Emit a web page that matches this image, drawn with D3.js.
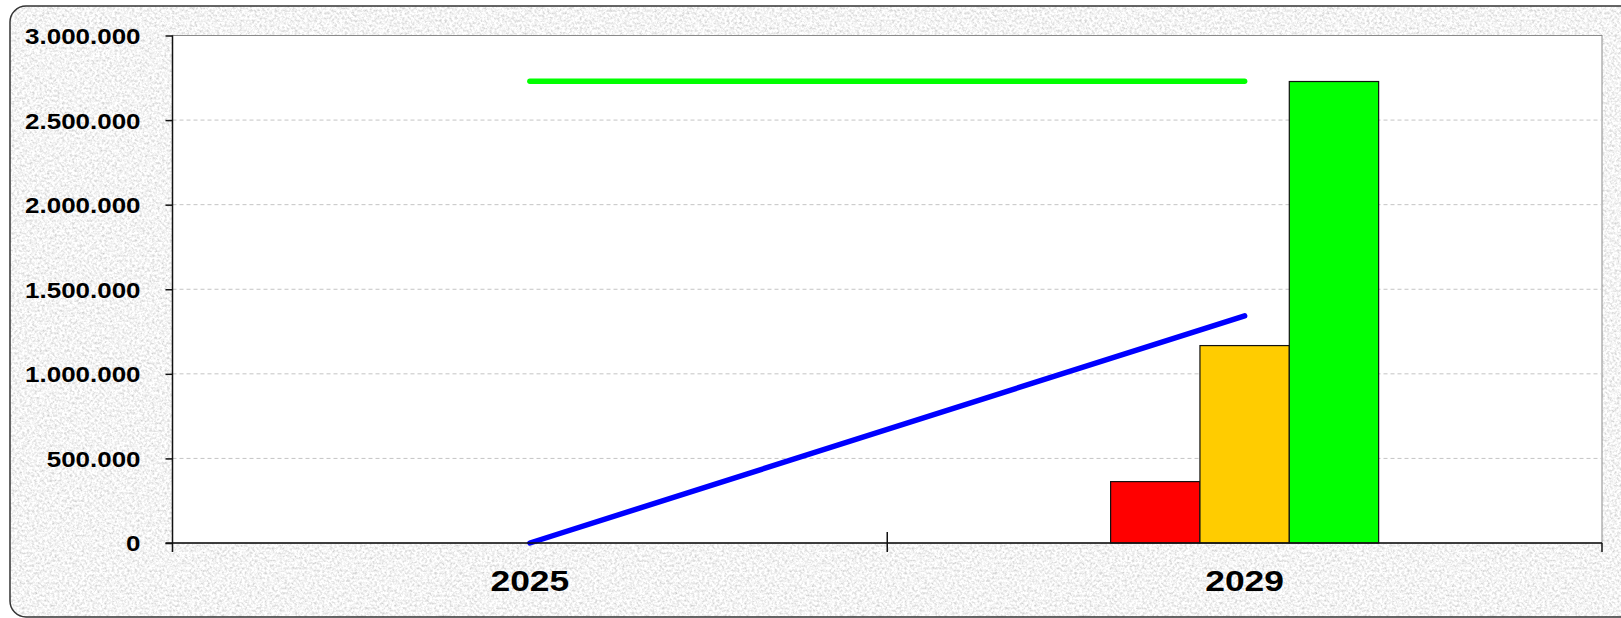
<!DOCTYPE html>
<html>
<head>
<meta charset="utf-8">
<script src="https://cdn.jsdelivr.net/npm/d3@7"></script>
<style>
  html, body { margin: 0; padding: 0; background: #fff; overflow: hidden; }
  .lbl { font-family: "Liberation Sans", Arial, sans-serif; font-weight: bold; fill: #000; }
</style>
</head>
<body>
<div id="chart"></div>
<script>
// categories and series
var years = ["2025", "2029"];
var barSeries = ["red", "yellow", "green"];
var barRed = [0, 363000];
var barYellow = [0, 1167000];
var barGreen = [0, 2728000];
var lineBlue = [0, 1343000];
var lineGreen = [2730000, 2730000];
var yTicks = [0, 500000, 1000000, 1500000, 2000000, 2500000, 3000000];

var barColors = { red: "#ff0000", yellow: "#ffcc00", green: "#00ff00" };

var W = 1621, H = 618;
var margin = { top: 35.5, right: 19, bottom: 75, left: 172.5 };

var svg = d3.select("#chart").append("svg")
    .attr("width", W)
    .attr("height", H);

// granite-ish background texture
var defs = svg.append("defs");
var filt = defs.append("filter")
    .attr("id", "granite")
    .attr("x", 0).attr("y", 0).attr("width", 1).attr("height", 1);
filt.append("feTurbulence")
    .attr("type", "fractalNoise")
    .attr("baseFrequency", 0.4)
    .attr("numOctaves", 4)
    .attr("seed", 7)
    .attr("result", "noise");
filt.append("feColorMatrix")
    .attr("in", "noise")
    .attr("type", "matrix")
    .attr("values", "0.75 0 0 0 0.53  0.75 0 0 0 0.53  0.75 0 0 0 0.53  0 0 0 0 1")
    .attr("result", "gray");
filt.append("feComposite")
    .attr("in", "gray")
    .attr("in2", "SourceGraphic")
    .attr("operator", "in");

svg.append("rect")
    .attr("x", 10).attr("y", 6)
    .attr("width", 1640).attr("height", 611)
    .attr("rx", 16).attr("ry", 16)
    .attr("fill", "#e8e8e8")
    .attr("filter", "url(#granite)");
svg.append("rect")
    .attr("x", 10).attr("y", 6)
    .attr("width", 1640).attr("height", 611)
    .attr("rx", 16).attr("ry", 16)
    .attr("fill", "none")
    .attr("stroke", "#333")
    .attr("stroke-width", 1.5);

var width = W - margin.left - margin.right,
    height = 543 - margin.top;

var g = svg.append("g")
    .attr("transform", "translate(" + margin.left + "," + margin.top + ")");

var x = d3.scaleBand().domain(years).range([0, width]).padding(0);
var y = d3.scaleLinear().domain([0, 3000000]).range([height, 0]);

var groupW = x.bandwidth() * 0.375;
var x1 = d3.scaleBand().domain(barSeries).range([-groupW / 2, groupW / 2]).padding(0);

// plot area
g.append("rect")
    .attr("width", width).attr("height", height)
    .attr("fill", "#fff")
    .attr("stroke", "#8a8a8a")
    .attr("stroke-width", 1);

// gridlines
g.selectAll(".grid")
    .data(yTicks.filter(function(d) { return d > 0 && d < 3000000; }))
    .enter().append("line")
    .attr("class", "grid")
    .attr("x1", 0).attr("x2", width)
    .attr("y1", function(d) { return y(d); })
    .attr("y2", function(d) { return y(d); })
    .attr("stroke", "#c4c4c4")
    .attr("stroke-dasharray", "4,3")
    .attr("stroke-width", 1);

// bars
var barData = [];
years.forEach(function(yr, i) {
    barData.push({ year: yr, key: "red", v: barRed[i] });
    barData.push({ year: yr, key: "yellow", v: barYellow[i] });
    barData.push({ year: yr, key: "green", v: barGreen[i] });
});

g.selectAll(".bar")
    .data(barData.filter(function(d) { return d.v > 0; }))
    .enter().append("rect")
    .attr("class", "bar")
    .attr("x", function(d) { return x(d.year) + x.bandwidth() / 2 + x1(d.key); })
    .attr("width", x1.bandwidth())
    .attr("y", function(d) { return y(d.v); })
    .attr("height", function(d) { return y(0) - y(d.v); })
    .attr("fill", function(d) { return barColors[d.key]; })
    .attr("stroke", "#111")
    .attr("stroke-width", 1.2);

// lines
var line = d3.line()
    .x(function(d, i) { return x(years[i]) + x.bandwidth() / 2; })
    .y(function(d) { return y(d); });

g.append("path")
    .datum(lineGreen)
    .attr("d", line)
    .attr("fill", "none")
    .attr("stroke", "#00ff00")
    .attr("stroke-width", 5.5)
    .attr("stroke-linecap", "round");

g.append("path")
    .datum(lineBlue)
    .attr("d", line)
    .attr("fill", "none")
    .attr("stroke", "#0000ff")
    .attr("stroke-width", 5.5)
    .attr("stroke-linecap", "round");

// y axis
var fmt = d3.formatLocale({ decimal: ",", thousands: ".", grouping: [3], currency: ["", ""] }).format(",");

var yAxis = g.append("g")
    .call(d3.axisLeft(y).tickValues(yTicks).tickSize(7).tickFormat(fmt));
yAxis.select(".domain").remove();
yAxis.selectAll(".tick line").attr("stroke", "#111").attr("stroke-width", 1.5);
yAxis.selectAll(".tick text")
    .attr("class", "lbl")
    .attr("x", 0)
    .attr("dy", "0.36em")
    .attr("transform", "translate(-32,0) scale(1.18,1)")
    .style("font-size", "22px")
    .attr("font-family", null);

g.append("line")
    .attr("x1", 0).attr("x2", 0)
    .attr("y1", 0).attr("y2", height + 9)
    .attr("stroke", "#111").attr("stroke-width", 1.5);

// x axis
var xAxis = g.append("g")
    .attr("transform", "translate(0," + height + ")")
    .call(d3.axisBottom(x).tickSize(0));
xAxis.select(".domain").remove();
xAxis.selectAll(".tick text")
    .attr("class", "lbl")
    .attr("y", 0)
    .attr("dy", null)
    .attr("transform", "translate(0,48) scale(1.18,1)")
    .style("font-size", "30px")
    .attr("font-family", null);

g.append("line")
    .attr("x1", -7).attr("x2", width)
    .attr("y1", height).attr("y2", height)
    .attr("stroke", "#111").attr("stroke-width", 1.5);

// category boundary ticks
var bounds = years.map(function(d) { return x(d); }).concat([width]);
g.selectAll(".xb")
    .data(bounds.slice(1))
    .enter().append("line")
    .attr("class", "xb")
    .attr("x1", function(d) { return d; })
    .attr("x2", function(d) { return d; })
    .attr("y1", function(d) { return d < width ? height - 11 : height; })
    .attr("y2", height + 9)
    .attr("stroke", "#111")
    .attr("stroke-width", 1.5);
</script>
</body>
</html>
